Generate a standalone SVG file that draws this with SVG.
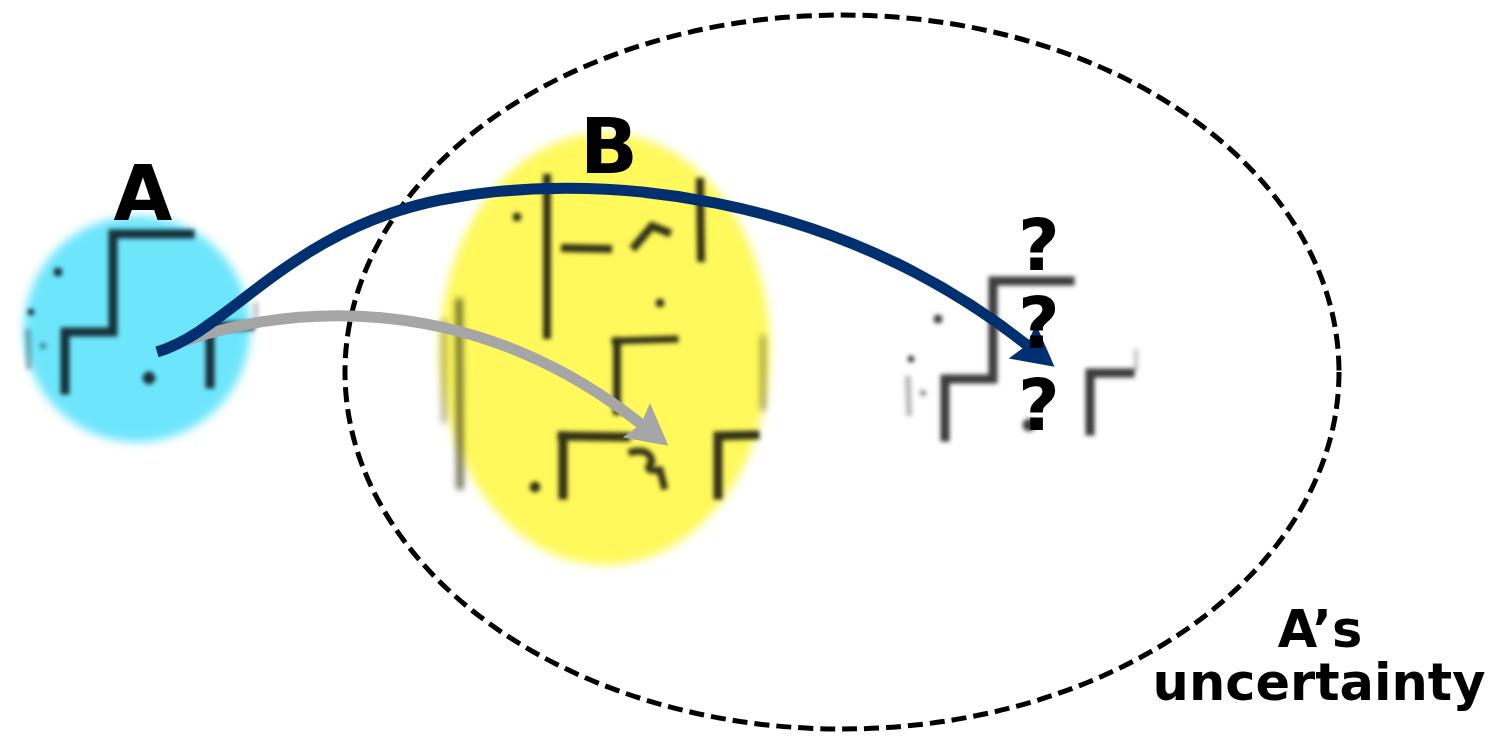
<svg xmlns="http://www.w3.org/2000/svg" xmlns:xlink="http://www.w3.org/1999/xlink" width="1502" height="738" viewBox="0 0 1502 738">
<style>
.lbl{font-family:"DejaVu Sans","Verdana",sans-serif;font-weight:bold;fill:#000;}
.map{fill:none;stroke-linecap:square;stroke-linejoin:miter;}
.arrow{fill:none;stroke-width:11;stroke-linecap:butt;}
</style>
<defs>
<filter id="softBlob" x="-20%" y="-20%" width="140%" height="140%"><feGaussianBlur stdDeviation="5"/></filter>
<filter id="softLine" x="-20%" y="-20%" width="140%" height="140%"><feGaussianBlur stdDeviation="2.2"/></filter>
<filter id="softer" x="-50%" y="-20%" width="200%" height="140%"><feGaussianBlur stdDeviation="3"/></filter>
<marker id="headBlue" markerUnits="userSpaceOnUse" markerWidth="60" markerHeight="60" viewBox="-10 -30 50 60" refX="0" refY="0" orient="auto">
<path d="M35 0 L-6 -22 L0 0 L-6 22 Z" fill="#00306f"/>
</marker>
<marker id="headGray" markerUnits="userSpaceOnUse" markerWidth="60" markerHeight="60" viewBox="-10 -30 50 60" refX="0" refY="0" orient="auto">
<path d="M35 0 L-6 -22 L0 0 L-6 22 Z" fill="#a6a6a6"/>
</marker>
<g id="mapShape">
<polyline class="map" stroke-width="9" points="190,234 113,234 113,332 65,332 65,390"/>
<polyline class="map" stroke-width="9" points="250,326 210,326 210,384"/>
<circle cx="149" cy="378" r="6"/>
<circle cx="58" cy="272" r="4"/>
<circle cx="31" cy="312" r="3"/>
<path d="M28 332 L29 366" stroke-width="6" opacity="0.35" class="map"/>
<circle cx="43" cy="346" r="3" opacity="0.5"/>
<path d="M256 304 L256 322" stroke-width="4" opacity="0.3" class="map"/>
</g>
</defs>

<g id="nodeA">
<circle cx="137" cy="329" r="113" fill="#6de6fc" filter="url(#softBlob)"/>
<use xlink:href="#mapShape" stroke="#14303a" fill="#14303a" filter="url(#softLine)"/>
<text class="lbl" x="143" y="220" font-size="76" text-anchor="middle">A</text>
</g>

<g id="nodeB">
<ellipse cx="605" cy="349" rx="165" ry="216" fill="#fff95b" filter="url(#softBlob)"/>
<g stroke="#333312" fill="#333312" filter="url(#softLine)">
<path class="map" stroke-width="8" d="M547 178 L547 335"/>
<circle cx="517" cy="217" r="4"/>
<path class="map" stroke-width="8" d="M565 248 L608 249"/>
<polyline class="map" stroke-width="8" points="635,246 652,226 667,232"/>
<path class="map" stroke-width="8" d="M700 182 L701 258"/>
<circle cx="660" cy="303" r="4"/>
<path class="map" stroke-width="7" d="M615 341 L675 339"/>
<path class="map" stroke-width="8" d="M617 341 L617 411"/>
<path class="map" stroke-width="9" d="M562 436 L626 437"/>
<path class="map" stroke-width="9" d="M563 436 L563 495"/>
<circle cx="535" cy="487" r="5"/>
<path class="map" stroke-width="7" d="M632 452 Q650 448 652 462 Q642 472 660 470 L664 486"/>
<polyline class="map" stroke-width="9" points="755,435 718,436 718,495"/>
</g>
<g stroke="#4a4a20" fill="none" filter="url(#softer)" opacity="0.8">
<path class="map" stroke-width="7" d="M459 302 L460 486"/>
<path class="map" stroke-width="6" d="M444 322 L444 420" opacity="0.5"/>
<path class="map" stroke-width="5" d="M763 338 L763 408" opacity="0.7"/>
</g>
<text class="lbl" x="609" y="173" font-size="76" text-anchor="middle">B</text>
</g>

<g id="nodeTarget">
<use xlink:href="#mapShape" transform="translate(880,47)" stroke="#3a3a3a" fill="#3a3a3a" filter="url(#softLine)"/>
</g>

<g id="uncertainty">
<ellipse cx="842" cy="372" rx="497" ry="357" fill="none" stroke="#000" stroke-width="5" stroke-dasharray="15 7"/>
<text class="lbl" font-size="51" text-anchor="middle"><tspan x="1320" y="647">A’s</tspan><tspan x="1319" y="700">uncertainty</tspan></text>
</g>

<g id="connectors">
<path class="arrow" stroke="#a6a6a6" d="M158 351 C280 300, 471 289, 641 424" marker-end="url(#headGray)"/>
<path class="arrow" stroke="#00306f" d="M157 352 C230 330, 290 230, 440 200 C590 170, 830 190, 1027 345" marker-end="url(#headBlue)"/>
</g>

<g id="questionMarks">
<text class="lbl" x="1039" y="270" font-size="72" text-anchor="middle">?</text>
<text class="lbl" x="1039" y="348" font-size="72" text-anchor="middle">?</text>
<text class="lbl" x="1039" y="430" font-size="72" text-anchor="middle">?</text>
</g>
</svg>
